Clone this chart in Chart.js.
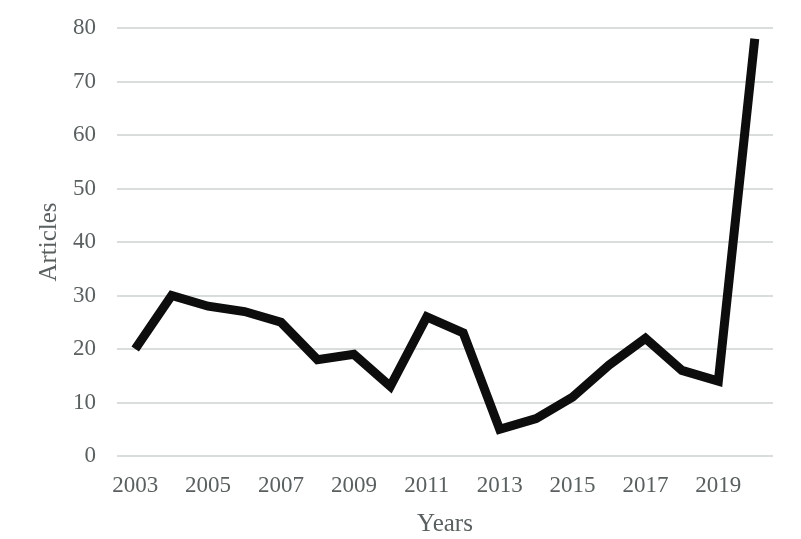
<!DOCTYPE html>
<html>
<head>
<meta charset="utf-8">
<script src="https://cdn.jsdelivr.net/npm/chart.js@4/dist/chart.umd.min.js"></script>
<style>
  html, body { margin: 0; padding: 0; background: #fff; }
  #wrap { width: 801px; height: 539px; }
</style>
</head>
<body>
<div id="wrap"><canvas id="chart" width="801" height="539"></canvas></div>
<script>
const years = ['2003', '2004', '2005', '2006', '2007', '2008', '2009', '2010', '2011',
  '2012', '2013', '2014', '2015', '2016', '2017', '2018', '2019', '2020'];
const articles = [20, 30, 28, 27, 25, 18, 19, 13, 26, 23, 5, 7, 11, 17, 22, 16, 14, 78];
const yTicks = [0, 10, 20, 30, 40, 50, 60, 70, 80];

const textColor = '#5a5f5f';
const fontFamily = '"Liberation Serif", "Times New Roman", serif';

const ctx = document.getElementById('chart').getContext('2d');
const chart = new Chart(ctx, {
  type: 'line',
  data: {
    labels: years,
    datasets: [{
      label: 'Articles',
      data: articles,
      borderColor: '#0d0d0d',
      borderWidth: 9,
      pointRadius: 0,
      tension: 0,
      borderJoinStyle: 'miter',
      fill: false
    }]
  },
  options: {
    responsive: false,
    animation: false,
    layout: { padding: { left: 0, right: 28, top: 28, bottom: 0 } },
    plugins: {
      legend: { display: false },
      tooltip: { enabled: false }
    },
    scales: {
      x: {
        offset: true,
        grid: { display: false, drawTicks: false },
        border: { display: false },
        ticks: {
          autoSkip: false,
          maxRotation: 0,
          padding: 16,
          color: textColor,
          font: { family: fontFamily, size: 23 },
          callback: function (val, index) {
            return index % 2 === 0 ? years[index] : '';
          }
        },
        title: {
          display: true,
          text: 'Years',
          color: textColor,
          font: { family: fontFamily, size: 25 },
          padding: { top: 1, bottom: 0 }
        },
        afterFit: function (scale) {
          scale.height = 83;
          scale.paddingLeft = 0;
          scale.paddingRight = 0;
        }
      },
      y: {
        min: 0,
        max: 80,
        afterBuildTicks: function (scale) {
          scale.ticks = yTicks.map(v => ({ value: v }));
        },
        grid: { color: '#d9dedc', lineWidth: 2, drawTicks: false },
        border: { display: false },
        ticks: {
          padding: 21,
          color: textColor,
          font: { family: fontFamily, size: 23 }
        },
        title: {
          display: true,
          text: 'Articles',
          color: textColor,
          font: { family: fontFamily, size: 25 },
          padding: { top: 34, bottom: 0 }
        },
        afterFit: function (scale) {
          scale.width = 117;
          scale.paddingTop = 0;
          scale.paddingBottom = 0;
        }
      }
    }
  }
});
</script>
</body>
</html>
